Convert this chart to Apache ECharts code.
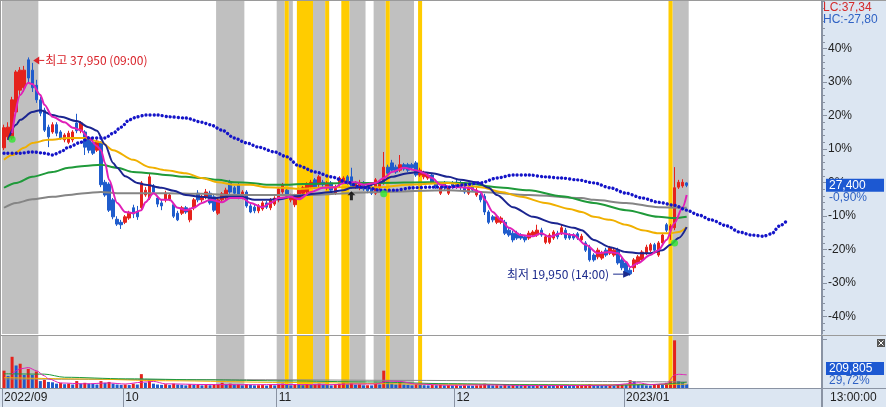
<!DOCTYPE html>
<html lang="ko"><head><meta charset="utf-8">
<script src="https://cdn.jsdelivr.net/npm/echarts@6.0.0/dist/echarts.min.js"></script>
<style>html,body{margin:0;padding:0;background:#fff;overflow:hidden}#chart{width:886px;height:407px}</style>
</head><body><div id="chart"></div>
<script>
// ---------- DATA ----------
const basePrice = 27632;
const monthKeys = ['2022/09','2022/10','2022/11','2022/12','2023/01'];
const monthDays = [
  [8,13,14,15,16,19,20,21,22,23,26,27,28,29,30],
  [4,5,6,7,11,12,13,14,17,18,19,20,21,24,25,26,27,28,31],
  [1,2,3,4,7,8,9,10,11,14,15,16,17,18,21,22,23,24,25,28,29,30],
  [1,2,5,6,7,8,9,12,13,14,15,16,19,20,21,22,23,26,27,28,29],
  [2,3,4,5,6,9,10,11]
];
const sessions = ['09:00','13:00'];
const futureSlots = 33;
const tickLabels = ['2022/09','10','11','12','2023/01'];
const pctLabels = [-40,-30,-20,-10,0,10,20,30,40];
const lastTimeLabel = '13:00:00';
const highTime = '09:00', lowTime = '14:00';
const lcText = 'LC:37,34', hcText = 'HC:-27,80';
const lastChangeText = '-0,90%';
const volRatioText = '29,72%';

// [open, close, low, high]
const candles = [
[30500,32150,30300,32400],[31400,32200,31150,32600],[31300,34450,31150,34700],[33450,36750,33200,36900],[35250,36900,34850,37150],
[35450,36900,35100,37250],[37750,36250,35900,37950],[36900,35450,35100,37500],[35650,34450,34200,36100],[34450,33350,33100,34700],
[33600,31950,31800,33800],[32200,31400,30550,32400],[31800,32400,31650,32600],[32400,31700,31450,32600],[31800,31300,31150,31950],
[31150,31550,30950,31700],[30950,31700,30800,31900],[31150,31800,30950,31950],[32550,31900,31700,33300],[31900,32550,31700,32700],
[31800,30550,29900,31950],[31300,30300,30050,31450],[30950,30050,29900,31150],[30300,31050,30150,31200],[30900,27450,27250,31050],
[27650,26600,26450,27850],[27500,25350,25200,27650],[26200,24800,24600,26350],[24600,24200,24050,24850],[24350,24150,23800,24550],
[24350,24800,24200,24950],[24700,25100,24550,25300],[25550,25050,24700,25800],[25200,24800,24550,25700],[25550,27600,25350,27750],
[26600,27000,26450,27250],[26350,28100,26200,28350],[27350,26850,26700,27500],[26350,25850,25600,26500],[25950,25700,25350,26200],
[26200,26750,26000,26950],[26250,26600,26100,26750],[25800,24850,24700,25950],[25100,24550,24450,25300],[25100,25550,24950,25700],
[25550,25200,25050,25700],[24550,25350,24350,25550],[25550,26200,25350,26350],[26750,26200,26000,27000],[26200,26450,26000,26600],
[26450,26850,26250,27100],[26750,25950,25800,26950],[26450,25350,25200,26600],[25100,26200,24950,26350],[26200,26700,26000,26850],
[26350,27000,26200,27200],[27650,26850,26700,27850],[27200,26750,26600,27350],[27450,26450,26250,27600],[26450,26850,26250,27000],
[26850,25700,25550,27000],[25700,25200,25100,25850],[25600,25300,25100,25800],[25300,25700,25100,25850],[25450,25950,25300,26100],
[25950,25600,25450,26100],[25550,26200,25350,26350],[25850,26350,25700,26500],[26200,27100,26000,27250],[26850,27450,26700,27600],
[27000,26500,26350,27200],[26200,26500,26000,26700],[25800,26500,25600,26700],[26350,27000,26200,27200],[26750,27200,26600,27350],
[26850,27500,26700,27650],[27250,27650,27100,27850],[27850,27250,27100,28000],[27450,28100,27250,28250],[27650,27450,27250,27850],
[27200,27600,27000,27750],[27600,27000,26850,27750],[26750,27250,26600,27450],[27450,28000,27250,28150],[27650,28000,27500,28150],
[28100,27600,27450,28250],[28100,27250,27100,28850],[27250,27600,27100,27750],[27200,27650,27000,27850],[27600,27100,26950,27750],
[27350,26950,26750,27500],[27250,26750,26600,27450],[26750,27850,26600,28000],[27200,27600,27000,27750],[27600,28900,27450,30150],
[28900,28400,28250,29100],[29250,28650,28500,29500],[28900,28500,28350,29100],[28650,29100,28500,29900],[29100,28750,28600,29250],
[29100,28650,28500,29250],[29100,28850,28650,29250],[29250,28250,28100,29400],[28250,28650,28100,28850],[28100,28400,27900,28600],
[28000,28250,27850,28400],[28250,27650,27500,28400],[27650,27250,27100,27850],[26750,27200,26600,27350],[27600,27200,27000,27750],
[26750,27200,26600,27350],[27600,27250,27100,27750],[27650,27250,27100,27850],[27600,27200,27000,27750],[27250,26850,26700,27450],
[26750,27200,26600,27350],[27250,27000,26850,27450],[26600,27000,26450,27200],[26600,26200,26000,26750],[26500,25200,24950,26700],
[25200,24350,24200,25350],[24800,24550,24350,24950],[24350,24800,24200,24950],[24350,24700,24200,24850],[24350,23450,23300,24550],
[23700,23300,23150,23900],[23450,22900,22700,23650],[23450,23050,22900,23650],[23300,23050,22900,23450],[23150,22900,22700,23300],
[23050,23450,22900,23650],[23300,23550,23150,23700],[23300,23700,23150,24150],[23700,23300,23150,23900],[22700,23150,22550,23300],
[22700,23300,22550,23450],[23050,23550,22900,23700],[23450,23150,22950,23650],[23450,23900,23300,24150],[23700,23050,22900,23900],
[23300,23050,22900,23450],[23300,23050,22900,23450],[23400,23050,22900,23550],[22900,23200,22700,23400],[22650,22050,21900,22800],
[22300,21250,21100,22500],[21650,21250,21100,21800],[21500,22050,21300,22250],[21400,21800,21250,22000],[22050,21650,21500,22250],
[21800,22250,21650,22400],[21650,22050,21500,22250],[22050,21000,20850,22250],[21250,20600,20400,21400],[21000,20150,20000,21150],
[20400,20100,19950,20600],[20600,21250,20250,21400],[21000,21500,20850,21650],[21250,21900,21100,22050],[21800,22300,21650,22500],
[22050,22500,21900,22650],[22500,22050,21900,22650],[21650,22650,21500,22800],[22650,23300,22500,23450],[24150,23700,23550,24300],
[23700,24050,22900,24200],[23900,27200,23700,28900],[27250,27650,27100,27850],[27350,27650,27200,27900],[27600,27400,27250,27650]
];

const volumes = [
1000000,700000,1800000,1300000,1400000,750000,1100000,750000,950000,400000,
470000,350000,330000,250000,300000,220000,250000,200000,400000,250000,
300000,250000,230000,200000,400000,300000,350000,250000,200000,180000,
200000,170000,250000,200000,800000,300000,450000,250000,200000,180000,
220000,170000,250000,200000,180000,150000,220000,180000,200000,150000,
170000,160000,200000,220000,300000,200000,250000,180000,200000,150000,
220000,180000,150000,160000,170000,140000,180000,150000,200000,250000,
180000,150000,200000,180000,160000,220000,170000,200000,250000,180000,
170000,150000,170000,250000,300000,200000,280000,180000,200000,150000,
160000,150000,300000,200000,1000000,350000,250000,200000,330000,200000,
180000,150000,220000,170000,160000,150000,170000,160000,180000,150000,
160000,140000,150000,130000,150000,140000,130000,150000,160000,250000,
200000,150000,160000,140000,200000,150000,170000,140000,130000,150000,
140000,130000,150000,120000,140000,130000,120000,130000,150000,140000,
130000,120000,130000,140000,180000,220000,170000,150000,140000,130000,
140000,120000,180000,200000,170000,450000,400000,200000,170000,150000,
140000,200000,230000,180000,300000,400000,2750000,400000,320000,209805
];

// moving-average lines: [slot, price]
const ma5 = [[2,31700],[4,34850],[6,35850],[7,35750],[9,34850],[10,34050],[12,33050],[15,32600],[17,32150],[19,31950],[21,31300],[23,30650],[24,30300],[25,29250],[26,27850],[28,25950],[30,25200],[32,25100],[34,25350],[35,26000],[37,26750],[39,26200],[41,26200],[43,25550],[45,25350],[47,25550],[49,25950],[51,26200],[54,26000],[56,26350],[59,26350],[61,25950],[64,25600],[66,25950],[68,26350],[71,26450],[73,26250],[76,26850],[79,27200],[82,27250],[84,27600],[87,27650],[89,27450],[92,27600],[94,28000],[96,28500],[99,28850],[102,28650],[104,28400],[106,28000],[108,27450],[111,27250],[113,27250],[115,27200],[118,26850],[119,26200],[121,25200],[123,24550],[125,23900],[128,23300],[131,23200],[133,23450],[135,23150],[138,23450],[141,23300],[144,22500],[147,21800],[150,21900],[152,21800],[154,21100],[155,20650],[157,21000],[160,21650],[162,22050],[164,22900],[166,24300],[168,25600],[169,26600]];
const ma20 = [[1,31150],[3,32400],[4,32800],[7,33450],[9,33600],[12,33200],[14,33050],[18,32700],[21,32200],[23,31900],[25,30750],[27,29250],[28,28850],[30,28150],[33,27600],[35,27450],[39,27200],[42,26950],[45,26600],[49,26450],[52,26350],[55,26450],[59,26450],[62,26200],[65,26200],[68,26250],[72,26500],[78,26750],[81,26850],[84,27000],[86,27200],[89,27250],[93,27650],[96,28100],[100,28400],[103,28500],[106,28400],[110,28100],[113,27850],[117,27650],[120,27200],[122,26600],[126,25600],[131,24800],[136,24300],[141,23900],[143,23700],[146,22900],[150,22300],[154,21900],[157,21800],[160,21800],[163,22050],[165,22500],[167,23050],[169,23950]];
const ma60 = [[0,29500],[2,29900],[5,30500],[7,30900],[11,31150],[16,31300],[20,31300],[24,30950],[27,30300],[32,29500],[36,28900],[40,28650],[45,28400],[49,28000],[53,27650],[57,27450],[61,27450],[65,27250],[69,27200],[73,27100],[80,27250],[87,27250],[93,27250],[100,27450],[110,27600],[118,27250],[123,26850],[128,26450],[134,25950],[140,25450],[143,25200],[146,24800],[150,24550],[154,24150],[158,23700],[162,23450],[165,23450],[167,23550],[169,23950]];
const ma120 = [[0,27200],[3,27600],[7,28100],[12,28500],[16,28850],[20,29000],[24,29100],[28,28850],[32,28500],[36,28400],[40,28250],[45,28100],[49,28000],[53,27850],[57,27650],[61,27600],[65,27450],[69,27450],[74,27500],[85,27600],[93,27600],[105,27650],[114,27600],[122,27250],[130,27000],[138,26500],[146,25950],[154,25350],[162,24800],[166,24700],[169,24800]];
const ma240 = [[0,25550],[3,25950],[7,26250],[12,26450],[16,26600],[20,26750],[24,26850],[28,26750],[40,26750],[49,26700],[57,26600],[65,26600],[74,26600],[93,26850],[110,27000],[118,26850],[130,26600],[143,26350],[146,26200],[154,25950],[162,25600],[169,25550]];
const leadLine = [[0,30050],[4,30050],[7,30150],[10,30050],[12,29900],[14,30150],[16,30550],[19,30950],[21,31300],[25,31300],[27,31700],[29,32200],[31,32800],[33,33050],[35,33200],[38,33200],[41,33050],[45,32950],[49,32600],[51,32400],[54,31950],[57,31300],[60,30900],[63,30550],[67,30150],[70,29750],[73,29000],[77,28500],[81,28100],[85,27650],[88,27250],[90,27200],[93,27000],[97,27000],[101,27200],[106,27250],[110,27250],[114,27450],[118,27600],[122,28000],[126,28250],[130,28250],[134,28100],[138,28000],[142,27850],[146,27600],[150,27200],[154,26750],[158,26350],[162,26000],[166,25750],[169,25350],[172,24950],[175,24550],[179,24050],[182,23550],[185,23300],[188,23200],[190,23400],[192,24050],[194,24550]];

const volMa5 = [[2,820000],[4,1100000],[6,1180000],[8,1000000],[10,700000],[11,530000],[14,290000],[20,240000],[26,290000],[30,230000],[34,330000],[37,380000],[40,240000],[50,200000],[60,190000],[70,200000],[80,190000],[86,230000],[92,230000],[95,400000],[98,380000],[102,230000],[110,160000],[120,180000],[130,140000],[140,140000],[150,160000],[155,250000],[157,300000],[160,200000],[164,240000],[166,750000],[167,790000],[169,760000]];
const volMa20 = [[0,820000],[10,800000],[15,620000],[30,530000],[50,470000],[70,410000],[90,350000],[110,250000],[130,190000],[150,160000],[160,190000],[169,330000]];
const volMa60 = [[0,600000],[20,520000],[40,420000],[70,320000],[110,210000],[140,180000],[169,220000]];
const volMa120 = [[0,520000],[60,480000],[100,440000],[140,380000],[169,350000]];

const grayBands = [[0,8],[53,59],[68,69],[71,71],[77,79],[86,89],[92,94],[96,101],[166,169]];
const yellowBands = [[70,70],[73,76],[80,80],[84,85],[95,95],[103,103],[165,165]];
const buySignals = [[2,31200],[94,26700],[166,22650]];
const crossSignals = [[86,26550]];

// ---------- BUILD ----------
const cats = [];
const monthStartIdx = [];
monthKeys.forEach((m, mi) => {
  monthStartIdx.push(cats.length);
  monthDays[mi].forEach(d => sessions.forEach(s => cats.push(m + '/' + String(d).padStart(2,'0') + ' ' + s)));
});
for (let i = 0; i < futureSlots; i++) cats.push('');

const pctTop = 54.18, pctBottom = -45.22;
const toPrice = p => basePrice * (1 + p / 100);
const yMin = toPrice(pctBottom), yMax = toPrice(pctTop);
const minorTicks = [];
for (let p = -44; p <= 54; p += 2) if (p % 10 !== 0) minorTicks.push(toPrice(p));

const RED = '#e5221c', BLUE = '#1f5ccc';
const volData = volumes.map((v, i) => ({value: v, itemStyle: {color: (i === 0 || v >= volumes[i-1]) ? RED : BLUE}}));
const bands = grayBands.map(b => [b[0], b[1], 0]).concat(yellowBands.map(b => [b[0], b[1], 1]));

const bandRender = (params, api) => {
  const s = api.coord([api.value(0), 0]);
  const e = api.coord([api.value(1), 0]);
  const w = api.size([1, 0])[0];
  const cs = params.coordSys;
  return {type: 'rect', shape: {x: s[0] - w/2, y: cs.y, width: e[0] - s[0] + w, height: cs.height},
          style: {fill: api.value(2) === 1 ? '#ffcc00' : '#c0c0c0'}};
};

const FONT = 'Liberation Sans, Arial, sans-serif';
const AXC = '#8a93a3';
const lineS = (data, color, w, xi, yi) => ({type: 'line', data, xAxisIndex: xi, yAxisIndex: yi, showSymbol: false, smooth: 0.3, smoothMonotone: 'x', silent: true,
  lineStyle: {color, width: w}, z: 4});

const chart = echarts.init(document.getElementById('chart'), null, {renderer: 'canvas'});
const option = {
  animation: false,
  backgroundColor: '#ffffff',
  grid: [
    {left: 2, top: 1, width: 820, height: 333, containLabel: false, outerBoundsMode: 'none'},
    {left: 2, top: 336, width: 820, height: 52, containLabel: false, outerBoundsMode: 'none'}
  ],
  xAxis: [
    {type: 'category', gridIndex: 0, data: cats, boundaryGap: true, show: false},
    {type: 'category', gridIndex: 1, data: cats, boundaryGap: true,
     axisLine: {show: true, lineStyle: {color: AXC, width: 1}},
     axisTick: {show: true, interval: (i) => monthStartIdx.includes(i), length: 19, lineStyle: {color: AXC}},
     axisLabel: {show: true, interval: (i) => monthStartIdx.includes(i), formatter: (v, i) => tickLabels[monthStartIdx.indexOf(i)] || '',
                 align: 'left', margin: 4, color: '#222', fontSize: 12, fontFamily: FONT},
     splitLine: {show: false}}
  ],
  yAxis: [
    {type: 'value', gridIndex: 0, position: 'right', min: yMin, max: yMax, splitLine: {show: false},
     axisLine: {show: true, lineStyle: {color: AXC}},
     axisTick: {show: true, customValues: pctLabels.map(toPrice), length: 5, lineStyle: {color: AXC}},
     axisLabel: {show: true, customValues: pctLabels.map(toPrice), formatter: v => Math.round((v / basePrice - 1) * 100) + '%',
                 margin: 6, color: '#222', fontSize: 12, fontFamily: FONT}},
    {type: 'value', gridIndex: 0, position: 'right', min: yMin, max: yMax, splitLine: {show: false},
     axisLine: {show: false}, axisTick: {show: true, customValues: minorTicks, length: 3, lineStyle: {color: AXC}}, axisLabel: {show: false}},
    {type: 'value', gridIndex: 0, min: 0, max: 1, show: false},
    {type: 'value', gridIndex: 1, position: 'right', min: 0, max: 3000000, splitLine: {show: false},
     axisLine: {show: true, lineStyle: {color: AXC}}, axisTick: {show: true, customValues: [2800000], length: 5, lineStyle: {color: AXC}}, axisLabel: {show: false}},
    {type: 'value', gridIndex: 1, min: 0, max: 1, show: false}
  ],
  series: [
    {type: 'custom', xAxisIndex: 0, yAxisIndex: 2, data: bands, encode: {x: [0, 1]}, renderItem: bandRender, silent: true, z: 1, clip: false},
    {type: 'custom', xAxisIndex: 1, yAxisIndex: 4, data: bands, encode: {x: [0, 1]}, renderItem: bandRender, silent: true, z: 1, clip: false},
    {type: 'candlestick', xAxisIndex: 0, yAxisIndex: 0, data: candles, barWidth: 3, silent: true, z: 3,
     itemStyle: {color: RED, color0: BLUE, borderColor: RED, borderColor0: BLUE, borderWidth: 1}},
    lineS(ma240, '#858585', 2, 0, 0),
    lineS(ma120, '#1f9a3a', 2, 0, 0),
    lineS(ma60, '#f0b000', 2, 0, 0),
    lineS(ma20, '#1b2590', 2, 0, 0),
    lineS(ma5, '#e020b8', 2, 0, 0),
    {type: 'line', data: leadLine, xAxisIndex: 0, yAxisIndex: 0, showSymbol: false, smooth: 0.3, smoothMonotone: 'x', silent: true, z: 4,
     lineStyle: {color: '#1414c8', width: 3.4, type: [0.01, 4.04], cap: 'round'}},
    {type: 'scatter', xAxisIndex: 0, yAxisIndex: 0, data: buySignals, symbol: 'circle', symbolSize: 7, itemStyle: {color: '#2ee62e'}, silent: true, z: 6},
    {type: 'scatter', xAxisIndex: 0, yAxisIndex: 0, data: crossSignals, symbol: 'path://M4,0 L8,4 L5.5,4 L5.5,9 L2.5,9 L2.5,4 L0,4 Z', symbolSize: [8, 9],
     itemStyle: {color: '#000'}, silent: true, z: 6},
    {type: 'bar', xAxisIndex: 1, yAxisIndex: 3, data: volData, barWidth: 3, silent: true, z: 3},
    lineS(volMa120, '#8a8a8a', 1, 1, 3),
    lineS(volMa60, '#f0b000', 1, 1, 3),
    lineS(volMa20, '#1f9a3a', 1, 1, 3),
    lineS(volMa5, '#e020b8', 1, 1, 3)
  ]
};
chart.setOption(option);

// ---------- ANNOTATIONS ----------
const fmt = n => n.toLocaleString('en-US');
let hiIdx = 0, loIdx = 0;
candles.forEach((c, i) => { if (c[3] > candles[hiIdx][3]) hiIdx = i; if (c[2] < candles[loIdx][2]) loIdx = i; });
const hiPrice = candles[hiIdx][3], loPrice = candles[loIdx][2];
const hp = chart.convertToPixel({xAxisIndex: 0, yAxisIndex: 0}, [hiIdx, hiPrice]);
const lp = chart.convertToPixel({xAxisIndex: 0, yAxisIndex: 0}, [loIdx, loPrice]);
const lastClose = candles[candles.length - 1][1];
const cp = chart.convertToPixel({xAxisIndex: 0, yAxisIndex: 0}, [candles.length - 1, lastClose]);
const lastVol = volumes[volumes.length - 1];

const txt = (text, x, y, fill, extra) => Object.assign({type: 'text', x, y, z: 20,
  style: Object.assign({text, fill, font: '12px ' + FONT, verticalAlign: 'middle', textVerticalAlign: 'middle', align: 'left', textAlign: 'left'}, extra || {})});
const ln = (x1, y1, x2, y2, c) => ({type: 'line', z: 20, shape: {x1, y1, x2, y2}, style: {stroke: c || AXC, lineWidth: 1}});

const hTip = [hp[0] + 5, hp[1] + 3];
const lTip = [lp[0] + 1, lp[1] - 1.5];
const KFONT = '12px "Noto Sans CJK KR", ' + FONT;

chart.setOption({graphic: {elements: [
  {type: 'rect', z: -10, shape: {x: 822, y: 0, width: 64, height: 407}, style: {fill: '#dce6f2'}},
  {type: 'rect', z: -10, shape: {x: 0, y: 388, width: 886, height: 19}, style: {fill: '#dce6f2'}},
  ln(0, 0.5, 886, 0.5, '#9a9a9a'),
  ln(0.5, 0, 0.5, 388, '#9a9a9a'),
  ln(0, 335.5, 886, 335.5, '#9a9a9a'),
  ln(0, 388.5, 886, 388.5),
  ln(821.5, 0, 821.5, 407),
  // high annotation
  {type: 'polygon', z: 20, shape: {points: [[hTip[0], hTip[1]], [hTip[0] + 6, hTip[1] - 4], [hTip[0] + 6, hTip[1] + 4]]}, style: {fill: '#d9232a'}},
  ln(hTip[0] + 6, hTip[1], hTip[0] + 11, hTip[1], '#d9232a'),
  txt('최고 ' + fmt(hiPrice) + ' (' + highTime + ')', hTip[0] + 12, hTip[1], '#d9232a', {font: KFONT}),
  // low annotation
  {type: 'polygon', z: 20, shape: {points: [[lTip[0], lTip[1]], [lTip[0] - 8, lTip[1] - 3.5], [lTip[0] - 8, lTip[1] + 3.5]]}, style: {fill: '#1b2a8c'}},
  ln(lTip[0] - 18, lTip[1], lTip[0] - 8, lTip[1], '#1b2a8c'),
  txt('최저 ' + fmt(loPrice) + ' (' + lowTime + ')', lTip[0] - 22, lTip[1], '#1b2a8c', {font: KFONT, align: 'right', textAlign: 'right'}),
  // right panel texts
  txt(lcText, 823, 8, '#d42a2a'),
  txt(hcText, 823, 20, '#2f62c4'),
  {type: 'rect', z: 19, shape: {x: 826, y: cp[1] - 6.5, width: 58, height: 13}, style: {fill: '#1c58d2'}},
  txt(fmt(lastClose), 829, cp[1], '#ffffff'),
  txt(lastChangeText, 829, cp[1] + 12, '#2f62c4'),
  {type: 'rect', z: 19, shape: {x: 826, y: 362, width: 58, height: 13}, style: {fill: '#1c58d2'}},
  txt(fmt(lastVol), 829, 368.5, '#ffffff'),
  txt(volRatioText, 829, 380.5, '#2f62c4'),
  {type: 'rect', z: 19, shape: {x: 877, y: 339, width: 8, height: 8}, style: {fill: '#555'}},
  ln(878.5, 340.5, 883.5, 345.5, '#fff'), ln(883.5, 340.5, 878.5, 345.5, '#fff'),
  txt(lastTimeLabel, 830, 397.5, '#222')
]}});
</script>
</body></html>
